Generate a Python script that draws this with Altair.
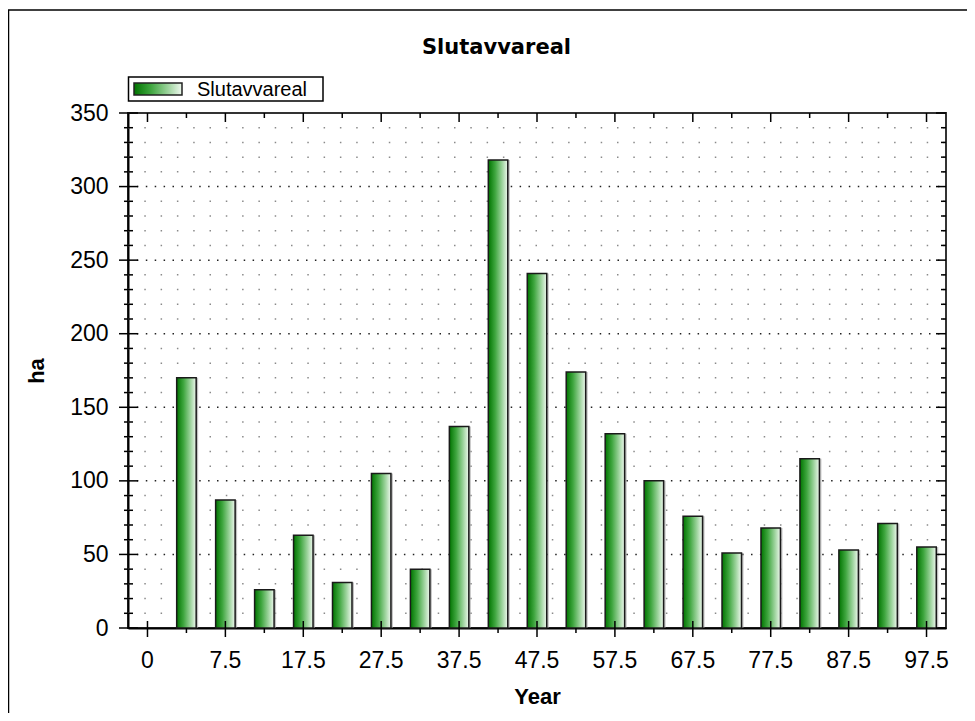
import altair as alt
import pandas as pd

# ---- data ----
categories = ["0", "2.5", "7.5", "12.5", "17.5", "22.5", "27.5", "32.5", "37.5", "42.5",
              "47.5", "52.5", "57.5", "62.5", "67.5", "72.5", "77.5", "82.5", "87.5", "92.5", "97.5"]
values = [0, 170, 87, 26, 63, 31, 105, 40, 137, 318, 241, 174, 132, 100, 76, 51, 68, 115, 53, 71, 55]
x_labels = [c for i, c in enumerate(categories) if i % 2 == 0]
y_major = [0, 50, 100, 150, 200, 250, 300, 350]
y_minor = [v for v in range(10, 350, 10) if v % 50 != 0]
title_text = "Slutavvareal"
series_name = "Slutavvareal"

W, H = 818, 515
FONT = "Liberation Sans"

df = pd.DataFrame({"cat": categories, "val": values})
tick_df = pd.DataFrame({"cat": categories, "major": [i % 2 == 0 for i in range(len(categories))]})
ymaj_df = pd.DataFrame({"val": y_major})
ymin_df = pd.DataFrame({"val": y_minor})
one = alt.Data(values=[{"t": title_text}])
leg = alt.Data(values=[{"t": series_name}])

xscale = alt.Scale(domain=categories, paddingInner=0.5, paddingOuter=0.25)
yscale = alt.Scale(domain=[0, 350], nice=False, zero=True)

grad = alt.Gradient(
    gradient="linear", x1=0, x2=1, y1=0, y2=0,
    stops=[alt.GradientStop(color="#007400", offset=0),
           alt.GradientStop(color="#3fa63f", offset=0.35),
           alt.GradientStop(color="#9ad29a", offset=0.7),
           alt.GradientStop(color="#eef8ee", offset=1)],
)

x_axis = alt.Axis(values=x_labels, labelAngle=0,
                  labelBaseline="alphabetic", labelPadding=39,
                  title="Year", titleX=W / 2, titleY=75, titleBaseline="alphabetic")
y_axis = alt.Axis(values=y_major, labelPadding=20, labelBaseline="middle",
                  title="ha", titleX=-91.5, titleY=H / 2, titleAngle=270,
                  titleAlign="center", titleBaseline="middle")

XE = alt.X("cat:N", scale=xscale, sort=categories, axis=x_axis)
YE = alt.Y("val:Q", scale=yscale, axis=y_axis)

# grid (behind bars)
grid_minor = alt.Chart(ymin_df).mark_rule(color="#8a8a8a", strokeWidth=1.5, strokeDash=[1.5, 14.8]).encode(
    y=YE, x=alt.value(0), x2=alt.value(W))
grid_major = alt.Chart(ymaj_df).transform_filter("datum.val > 0 && datum.val < 350").mark_rule(
    color="#222", strokeWidth=1.5, strokeDash=[1.5, 7.4]).encode(
    y=YE, x=alt.value(0), x2=alt.value(W))

shadow = alt.Chart(df).transform_filter("datum.val > 0").mark_bar(
    color="#9a9a9a", opacity=0.6, xOffset=2).encode(x=XE, y=YE)

bars = alt.Chart(df).transform_filter("datum.val > 0").mark_bar(
    color=grad, stroke="#1a1a1a", strokeWidth=1.5).encode(x=XE, y=YE)

# axis ticks drawn as rules
def yticks(src, x1, x2):
    return alt.Chart(src).mark_rule(color="#000", strokeWidth=1.5).encode(
        y=YE, x=alt.value(x1), x2=alt.value(x2))

def xticks(flag, y1, y2):
    return alt.Chart(tick_df).transform_filter(
        "datum.major" if flag else "!datum.major").mark_rule(color="#000", strokeWidth=1.5).encode(
        x=XE, y=alt.value(y1), y2=alt.value(y2))

ticks = [
    yticks(ymaj_df, -9, 10), yticks(ymin_df, -4, 5),
    yticks(ymaj_df, W - 10, W), yticks(ymin_df, W - 5, W),
    xticks(True, H - 7, H + 9), xticks(False, H, H + 5),
    xticks(True, 0, 9), xticks(False, 0, 5),
]

# outer frame (left and top edges)
frame_left = alt.Chart(one).mark_rule(color="#000", strokeWidth=1.5).encode(
    x=alt.value(-119.5), y=alt.value(-103), y2=alt.value(H + 90))
frame_top = alt.Chart(one).mark_rule(color="#000", strokeWidth=1.5).encode(
    x=alt.value(-120), x2=alt.value(W + 25), y=alt.value(-103))

title = alt.Chart(one).mark_text(font="DejaVu Sans", fontWeight="bold", fontSize=21, color="#000",
                                 align="center", baseline="alphabetic").encode(
    text="t:N", x=alt.value(368.5), y=alt.value(-59.5))

legend_box = alt.Chart(leg).mark_rect(fill="#fff", stroke="#000", strokeWidth=1.5).encode(
    x=alt.value(0.5), x2=alt.value(195), y=alt.value(-36), y2=alt.value(-12))
legend_swatch = alt.Chart(leg).mark_rect(color=grad, stroke="#222", strokeWidth=1.5).encode(
    x=alt.value(6), x2=alt.value(54), y=alt.value(-30), y2=alt.value(-18))
legend_text = alt.Chart(leg).mark_text(font=FONT, fontSize=20, color="#000",
                                       align="left", baseline="alphabetic").encode(
    text="t:N", x=alt.value(69), y=alt.value(-17))

chart = alt.layer(
    grid_minor, grid_major, shadow, bars, *ticks,
    frame_left, frame_top, title, legend_box, legend_swatch, legend_text,
).properties(
    width=W, height=H,
    autosize=alt.AutoSizeParams(type="none"),
    padding={"left": 120, "top": 105, "right": 21, "bottom": 85},
    background="white",
).configure_view(
    stroke="#333", strokeWidth=2
).configure_axis(
    ticks=False, tickSize=0, grid=False, domain=True, domainColor="#000", domainWidth=2,
    labelFont=FONT, labelFontSize=23, labelColor="#000",
    titleFont=FONT, titleFontSize=22, titleFontWeight="bold", titleColor="#000",
)

chart.save("out.html", embed_options={"renderer": "svg", "actions": False})
